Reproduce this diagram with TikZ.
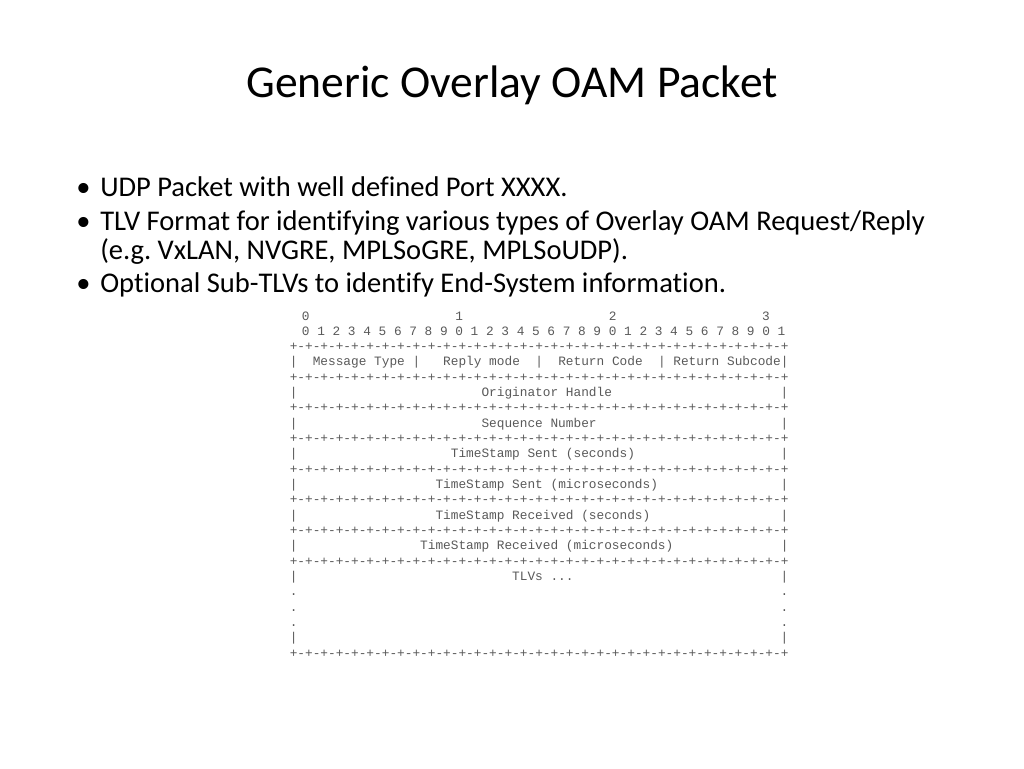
\documentclass[tikz,border=0pt]{standalone}
\usepackage{fontspec}
\setmainfont{Carlito}[Ligatures={NoCommon}]
\setmonofont{Liberation Mono}
\newlength\cw
\setlength\cw{5.7525pt}
\newcommand\sk[1]{\hspace*{#1\cw}}
\newcommand\border{+-+-+-+-+-+-+-+-+-+-+-+-+-+-+-+-+-+-+-+-+-+-+-+-+-+-+-+-+-+-+-+-+}
\definecolor{asciicol}{gray}{0.35}
\tikzset{
  titletext/.style={font=\fontsize{34.2}{38}\selectfont, inner sep=0pt},
  bullettext/.style={font=\fontsize{21.4}{25}\selectfont\frenchspacing, anchor=base west, inner sep=0pt},
  bulletmark/.style={font=\fontsize{21.4}{25}\selectfont, anchor=base west, inner sep=0pt},
  asc/.style={font=\fontsize{9.59}{11}\selectfont\ttfamily\frenchspacing, anchor=base west, inner sep=0pt, text=asciicol},
}
\begin{document}
\begin{tikzpicture}[x=0.75pt,y=-0.75pt]
\useasboundingbox (0,0) rectangle (1024,768);
\node[titletext, anchor=base] (title) at (512,97) {Generic Overlay OAM Packet};
% bullets
\node[bulletmark] (b1m) at (76,196) {•};
\node[bullettext] (b1) at (100,196) {UDP Packet with well defined Port XXXX.};
\node[bulletmark] (b2m) at (76,230) {•};
\node[bullettext] (b2) at (100,230) {TLV Format for identifying various types of Overlay OAM Request/Reply};
\node[bullettext] (b2b) at (100,259) {(e.g. VxLAN, NVGRE, MPLSoGRE, MPLSoUDP).};
\node[bulletmark] (b3m) at (76,292) {•};
\node[bullettext] (b3) at (100,292) {Optional Sub-TLVs to identify End-System information.};
% ascii packet
\def\xa{294}
\def\xb{289.5}
\node[asc] (l1) at (\xa,320) {~0\sk{19}1\sk{19}2\sk{19}3};
\node[asc] (l2) at (\xa,335.32) {~0~1~2~3~4~5~6~7~8~9~0~1~2~3~4~5~6~7~8~9~0~1~2~3~4~5~6~7~8~9~0~1};
\node[asc] (l3) at (\xb,350.64) {\border};
\node[asc] (l4) at (\xb,365.96) {|~~Message~Type~|~~~Reply~mode~~|~~Return~Code~~|~Return~Subcode|};
\node[asc] (l5) at (\xb,381.28) {\border};
\node[asc] (l6) at (\xb,396.6) {|\sk{24}Originator~Handle\sk{22}|};
\node[asc] (l7) at (\xb,411.92) {\border};
\node[asc] (l8) at (\xb,427.24) {|\sk{24}Sequence~Number\sk{24}|};
\node[asc] (l9) at (\xb,442.56) {\border};
\node[asc] (l10) at (\xb,457.88) {|\sk{20}TimeStamp~Sent~(seconds)\sk{19}|};
\node[asc] (l11) at (\xb,473.2) {\border};
\node[asc] (l12) at (\xb,488.52) {|\sk{18}TimeStamp~Sent~(microseconds)\sk{16}|};
\node[asc] (l13) at (\xb,503.84) {\border};
\node[asc] (l14) at (\xb,519.16) {|\sk{18}TimeStamp~Received~(seconds)\sk{17}|};
\node[asc] (l15) at (\xb,534.48) {\border};
\node[asc] (l16) at (\xb,549.8) {|\sk{16}TimeStamp~Received~(microseconds)\sk{14}|};
\node[asc] (l17) at (\xb,565.12) {\border};
\node[asc] (l18) at (\xb,580.44) {|\sk{28}TLVs~...\sk{27}|};
\node[asc] (l19) at (\xb,595.76) {.\sk{63}.};
\node[asc] (l20) at (\xb,611.08) {.\sk{63}.};
\node[asc] (l21) at (\xb,626.4) {.\sk{63}.};
\node[asc] (l22) at (\xb,641.72) {|\sk{63}|};
\node[asc] (l23) at (\xb,657.04) {\border};
\end{tikzpicture}
\end{document}
